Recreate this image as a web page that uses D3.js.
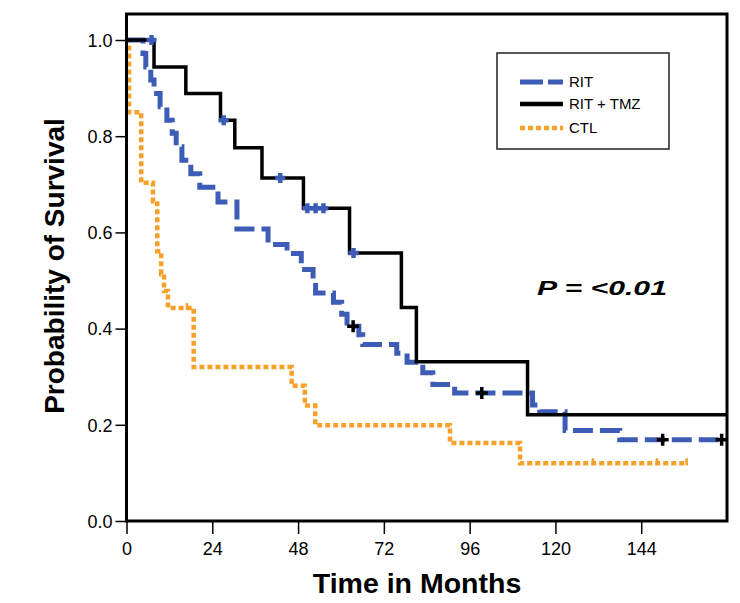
<!DOCTYPE html>
<html><head><meta charset="utf-8">
<script src="https://cdn.jsdelivr.net/npm/d3@7"></script>
<style>body{margin:0;background:#fff} svg{display:block} text{font-family:"Liberation Sans",Arial,sans-serif}</style>
</head><body><svg id="c" width="740" height="603"></svg>
<script>
// ---- data ----
const seriesNames = ["RIT", "RIT + TMZ", "CTL"];

const ritTimes = [0, 4.6, 5.4, 6.8, 7.7, 9.4, 11.3, 12.8, 13.9, 15.5, 18.0, 20.5, 25.6, 30.9, 39.6, 44.9, 48.9, 52.2, 52.9, 57.9, 60.2, 61.7, 65.0, 66.1, 75.6, 78.5, 82.9, 85.7, 91.8, 113.6, 115.6, 122.7, 138.0];
const ritSurv  = [1, 0.972, 0.944, 0.917, 0.889, 0.861, 0.833, 0.806, 0.778, 0.750, 0.722, 0.694, 0.663, 0.607, 0.575, 0.556, 0.523, 0.497, 0.474, 0.455, 0.430, 0.405, 0.387, 0.367, 0.349, 0.330, 0.308, 0.284, 0.266, 0.241, 0.227, 0.188, 0.169];
const ritCensor = [63.4, 99.4, 150.0, 166.5];
const ritEnd = 168;

const tmzTimes = [0, 7.7, 16.6, 26.3, 30.3, 37.9, 49.5, 62.4, 76.9, 81.1, 112.2];
const tmzSurv  = [1, 0.944, 0.889, 0.833, 0.776, 0.713, 0.650, 0.557, 0.444, 0.331, 0.221];
const tmzCensor = [7.0, 27.2, 43.0, 50.6, 52.9, 55.1, 63.5];
const tmzEnd = 168;

const ctlTimes = [0, 0.7, 4.1, 7.4, 8.6, 9.7, 10.5, 11.6, 18.8, 46.2, 49.9, 52.8, 90.5, 110.1];
const ctlSurv  = [1, 0.850, 0.703, 0.665, 0.561, 0.513, 0.478, 0.443, 0.320, 0.281, 0.240, 0.199, 0.162, 0.120];
const ctlCensor = [16.9, 130.5, 148.4, 156.7];
const ctlEnd = 157.0;

const xTicks = [0, 24, 48, 72, 96, 120, 144];
const yTicks = [0, 0.2, 0.4, 0.6, 0.8, 1.0];
const pText = "P = <0.01";

// ---- drawing ----
const svg = d3.select("#c");
const x = d3.scaleLinear().domain([0, 168]).range([126.5, 727]);
const y = d3.scaleLinear().domain([0, 1]).range([521, 40]);

const BLUE = "#3d5cb5", ORANGE = "#f7a02a";

function pts(times, surv, end) {
  const p = times.map((t, i) => [t, surv[i]]);
  p.push([end, surv[surv.length - 1]]);
  return p;
}
function survAt(times, surv, t) {
  const i = d3.bisectRight(times, t) - 1;
  return surv[Math.max(0, i)];
}
const line = d3.line().x(d => x(d[0])).y(d => y(d[1])).curve(d3.curveStepAfter);

// axes
const yAxis = d3.axisLeft(y).tickValues(yTicks).tickFormat(d3.format(".1f")).tickSize(11).tickPadding(3);
const gy = svg.append("g").attr("transform", "translate(126.5,0)").call(yAxis);
gy.select(".domain").remove();
gy.selectAll("line").attr("stroke", "#000").attr("stroke-width", 1.5);
gy.selectAll("text").attr("font-size", 18).attr("fill", "#000").attr("dy", "0.35em");

const xAxis = d3.axisBottom(x).tickValues(xTicks).tickFormat(d3.format("d")).tickSize(13).tickPadding(8);
const gx = svg.append("g").attr("transform", "translate(0,521)").call(xAxis);
gx.select(".domain").remove();
gx.selectAll("line").attr("stroke", "#000").attr("stroke-width", 1.5);
gx.selectAll("text").attr("font-size", 18).attr("fill", "#000");

// curves
svg.append("path").datum(pts(ctlTimes, ctlSurv, ctlEnd)).attr("d", line)
  .attr("fill", "none").attr("stroke", ORANGE).attr("stroke-width", 4.5).attr("stroke-dasharray", "5,3");
svg.append("path").datum(pts(ritTimes, ritSurv, ritEnd)).attr("d", line)
  .attr("fill", "none").attr("stroke", BLUE).attr("stroke-width", 5).attr("stroke-dasharray", "20,7");
svg.append("path").datum(pts(tmzTimes, tmzSurv, tmzEnd)).attr("d", line)
  .attr("fill", "none").attr("stroke", "#000").attr("stroke-width", 3.5);

// censor marks
function plus(cx, cy, r) { return `M${cx - r},${cy}H${cx + r}M${cx},${cy - r}V${cy + r}`; }
svg.append("g").selectAll("path").data(ctlCensor).join("path")
  .attr("d", t => `M${x(t)},${y(survAt(ctlTimes, ctlSurv, t)) - 5}V${y(survAt(ctlTimes, ctlSurv, t)) + 2}`)
  .attr("stroke", ORANGE).attr("stroke-width", 2.5);
svg.append("g").selectAll("path").data(tmzCensor).join("path")
  .attr("d", t => plus(x(t), y(survAt(tmzTimes, tmzSurv, t)), 5))
  .attr("stroke", BLUE).attr("stroke-width", 4.5);
svg.append("g").selectAll("path").data(ritCensor).join("path")
  .attr("d", t => plus(x(t), y(survAt(ritTimes, ritSurv, t)), 6))
  .attr("stroke", "#000").attr("stroke-width", 3.5);

// frame
svg.append("rect").attr("x", 126.5).attr("y", 14).attr("width", 727 - 126.5).attr("height", 521 - 14)
  .attr("fill", "none").attr("stroke", "#000").attr("stroke-width", 3);

// legend
const lg = svg.append("g");
lg.append("rect").attr("x", 497).attr("y", 53).attr("width", 172).attr("height", 96)
  .attr("fill", "#fff").attr("stroke", "#222").attr("stroke-width", 1.5);
const legStyles = [
  {c: BLUE, w: 5, dash: "23,5"},
  {c: "#000", w: 4.5, dash: null},
  {c: ORANGE, w: 4.5, dash: "5,3"}
];
const legY = [82, 104, 128];
seriesNames.forEach((name, i) => {
  const s = legStyles[i];
  lg.append("line").attr("x1", 520).attr("x2", 563).attr("y1", legY[i]).attr("y2", legY[i])
    .attr("stroke", s.c).attr("stroke-width", s.w).attr("stroke-dasharray", s.dash);
  lg.append("text").attr("x", 569).attr("y", legY[i]).attr("dy", "0.36em")
    .attr("font-size", 15).attr("fill", "#000").text(name);
});

// p-value
svg.append("text").attr("x", 537).attr("y", 295).attr("font-size", 20)
  .attr("font-weight", "bold").attr("font-style", "italic")
  .attr("textLength", 130).attr("lengthAdjust", "spacingAndGlyphs").text(pText);

// axis titles
svg.append("text").attr("x", 417).attr("y", 593).attr("text-anchor", "middle")
  .attr("font-size", 28.5).attr("font-weight", "bold").text("Time in Months");
svg.append("text").attr("transform", "translate(64,266) rotate(-90)").attr("text-anchor", "middle")
  .attr("font-size", 28).attr("font-weight", "bold").text("Probability of Survival");
</script></body></html>
